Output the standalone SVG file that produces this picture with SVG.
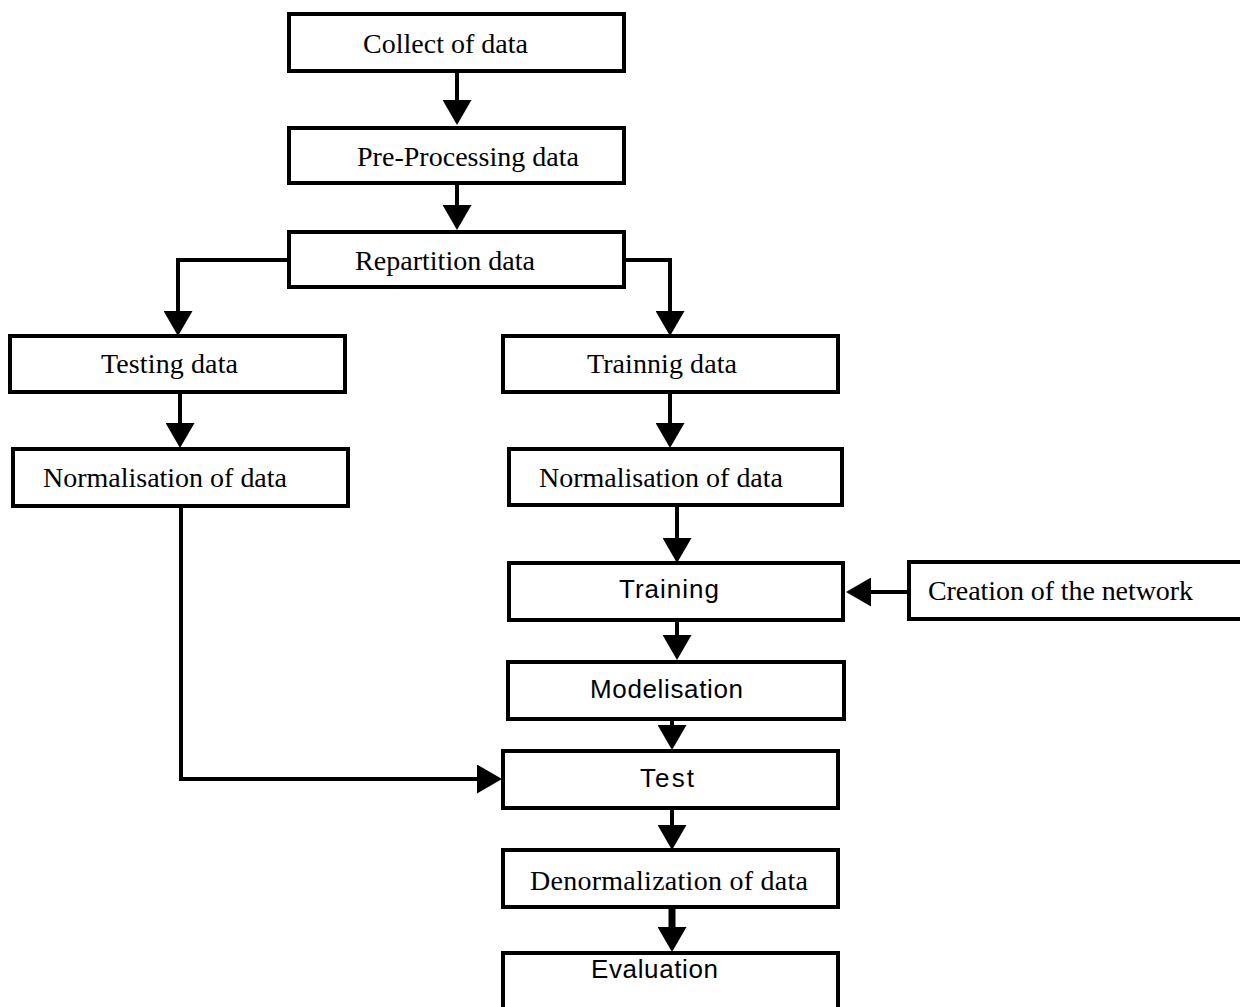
<svg xmlns="http://www.w3.org/2000/svg" width="1240" height="1007" viewBox="0 0 1240 1007">
  <style>
    .box { fill: #ffffff; stroke: #000000; stroke-width: 4; }
    .serif { font-family: "Liberation Serif", "Times New Roman", serif; font-size: 28px; fill: #000; }
    .sans { font-family: "Liberation Sans", Arial, sans-serif; font-size: 26px; fill: #000; }
    .link { fill: none; stroke: #000000; stroke-width: 4; marker-end: url(#head); }
  </style>
  <defs>
    <marker id="head" viewBox="0 0 25 29" refX="11" refY="14.5" markerWidth="25" markerHeight="29" markerUnits="userSpaceOnUse" orient="auto">
      <path d="M0,0 L25,14.5 L0,29 Z" fill="#000"/>
    </marker>
  </defs>
  <rect width="1240" height="1007" fill="#ffffff"/>

  <g id="connectors">
    <path class="link" d="M457,71 V111"/>
    <path class="link" d="M457,183 V216"/>
    <path class="link" d="M289,260 H178 V322"/>
    <path class="link" d="M624,260 H670 V322"/>
    <path class="link" d="M180,393 V434"/>
    <path class="link" d="M670,392 V434"/>
    <path class="link" d="M677,505 V549"/>
    <path class="link" d="M908,592 H860"/>
    <path class="link" d="M677,620 V646"/>
    <path class="link" d="M672,720 V736"/>
    <path class="link" d="M672,810 V836"/>
    <path class="link" d="M672,908 V938" style="stroke-width:7"/>
    <path class="link" d="M181,507 V779 H488"/>
  </g>

  <g id="collect">
    <rect class="box" x="289" y="14" width="335" height="57"/>
    <text class="serif" x="363" y="53" textLength="165">Collect of data</text>
  </g>
  <g id="preprocessing">
    <rect class="box" x="289" y="128" width="335" height="55"/>
    <text class="serif" x="357" y="166" textLength="222">Pre-Processing data</text>
  </g>
  <g id="repartition">
    <rect class="box" x="289" y="232" width="335" height="55"/>
    <text class="serif" x="355" y="270" textLength="180">Repartition data</text>
  </g>
  <g id="testing">
    <rect class="box" x="10" y="336" width="335" height="56"/>
    <text class="serif" x="101" y="373" textLength="137">Testing data</text>
  </g>
  <g id="norm-test">
    <rect class="box" x="13" y="449" width="335" height="57"/>
    <text class="serif" x="43" y="487" textLength="244">Normalisation of data</text>
  </g>
  <g id="training-data">
    <rect class="box" x="503" y="336" width="335" height="56"/>
    <text class="serif" x="587" y="373" textLength="150">Trainnig data</text>
  </g>
  <g id="norm-train">
    <rect class="box" x="509" y="449" width="333" height="56"/>
    <text class="serif" x="539" y="487" textLength="244">Normalisation of data</text>
  </g>
  <g id="training">
    <rect class="box" x="509" y="563" width="334" height="57"/>
    <text class="sans" x="619" y="598" textLength="100">Training</text>
  </g>
  <g id="network">
    <rect class="box" x="909" y="562" width="333" height="57"/>
    <text class="serif" x="928" y="600" textLength="265">Creation of the network</text>
  </g>
  <g id="modelisation">
    <rect class="box" x="508" y="662" width="336" height="57"/>
    <text class="sans" x="590" y="698" textLength="153">Modelisation</text>
  </g>
  <g id="test">
    <rect class="box" x="503" y="751" width="335" height="57"/>
    <text class="sans" x="640" y="787" textLength="54">Test</text>
  </g>
  <g id="denormalization">
    <rect class="box" x="503" y="850" width="335" height="57"/>
    <text class="serif" x="530" y="890" textLength="278">Denormalization of data</text>
  </g>
  <g id="evaluation">
    <rect class="box" x="503" y="953" width="335" height="60"/>
    <text class="sans" x="591" y="978" textLength="127">Evaluation</text>
  </g>
</svg>
